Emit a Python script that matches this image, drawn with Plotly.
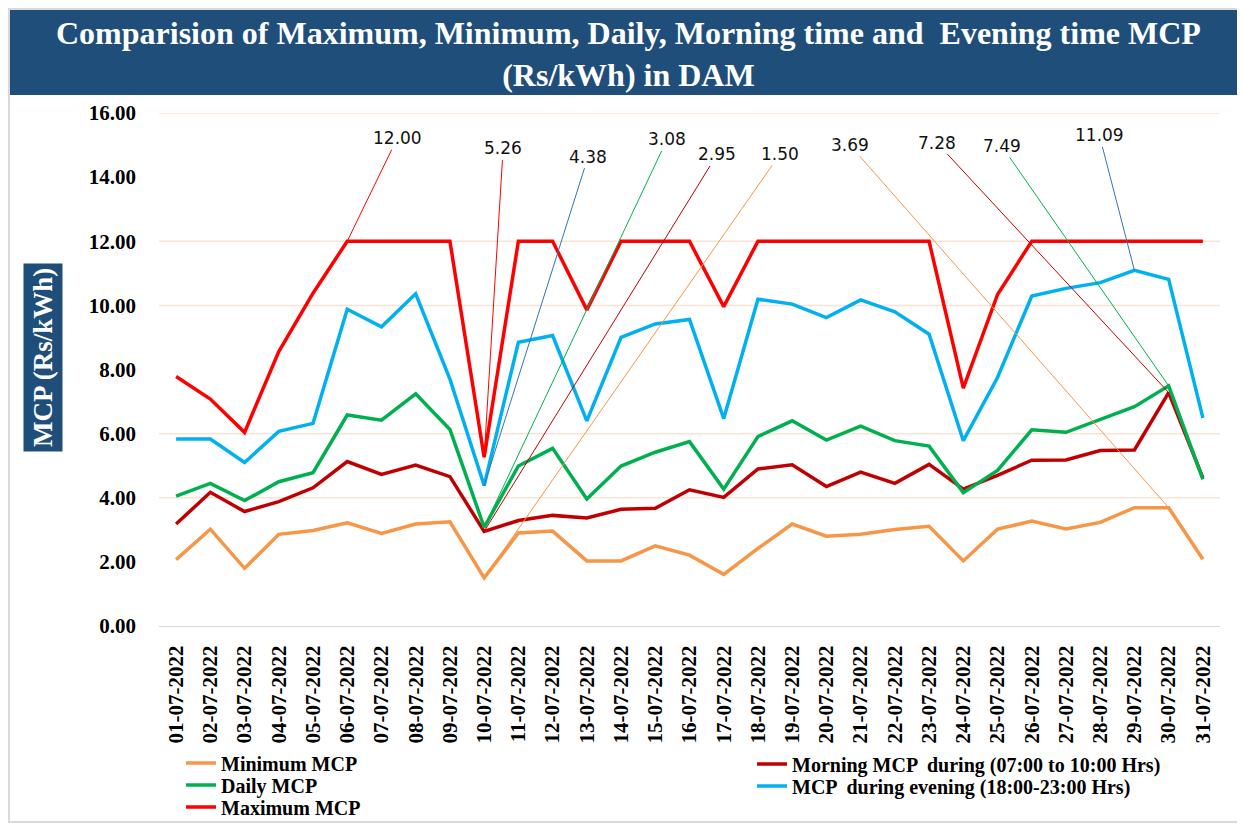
import plotly.graph_objects as go

dates = [f"{d:02d}-07-2022" for d in range(1, 32)]

minimum_mcp = [2.07, 3.02, 1.80, 2.86, 2.98, 3.22, 2.89, 3.18, 3.25, 1.50,
               2.90, 2.96, 2.03, 2.03, 2.50, 2.21, 1.61, 2.42, 3.18, 2.80,
               2.86, 3.01, 3.11, 2.03, 3.02, 3.27, 3.03, 3.23, 3.69, 3.69, 2.08]
daily_mcp = [4.05, 4.45, 3.91, 4.50, 4.78, 6.58, 6.42, 7.24, 6.13, 3.08,
             4.99, 5.54, 3.96, 4.99, 5.42, 5.75, 4.27, 5.91, 6.40, 5.80,
             6.23, 5.78, 5.61, 4.16, 4.85, 6.12, 6.04, 6.43, 6.84, 7.49, 4.57]
maximum_mcp = [7.78, 7.08, 6.04, 8.56, 10.38, 12.00, 12.00, 12.00, 12.00, 5.26,
               12.00, 12.00, 9.86, 12.00, 12.00, 12.00, 9.96, 12.00, 12.00, 12.00,
               12.00, 12.00, 12.00, 7.42, 10.34, 12.00, 12.00, 12.00, 12.00, 12.00, 12.00]
morning_mcp = [3.18, 4.17, 3.57, 3.88, 4.31, 5.13, 4.73, 5.02, 4.66, 2.95,
               3.29, 3.45, 3.37, 3.64, 3.67, 4.25, 4.01, 4.90, 5.03, 4.35,
               4.80, 4.45, 5.04, 4.27, 4.70, 5.17, 5.18, 5.47, 5.49, 7.28, 4.62]
evening_mcp = [5.83, 5.83, 5.10, 6.07, 6.32, 9.88, 9.33, 10.36, 7.70, 4.38,
               8.85, 9.06, 6.40, 9.00, 9.42, 9.56, 6.47, 10.19, 10.04, 9.62,
               10.17, 9.80, 9.10, 5.78, 7.75, 10.29, 10.53, 10.71, 11.09, 10.81, 6.49]

gridline_values = [4, 6, 10, 12, 16]
y_ticks = [0, 2, 4, 6, 8, 10, 12, 14, 16]

C_MIN = "#F79646"
C_DAILY = "#00B050"
C_MAX = "#FF0000"
C_MORN = "#C00000"
C_EVE = "#00B0F0"
C_EVE_LEAD = "#2E75B6"

SERIF = "Liberation Serif"

# page body has an 8px margin: figure is shifted by OFF on screen
OFF = 8
FIG_W, FIG_H = 1245 - OFF, 825 - OFF
# plot area in screen pixels
L, R, T, B = 159, 1220, 113, 626
W, H = R - L, B - T


def px(xs):
    return (xs - L) / W


def py(ys):
    return (B - ys) / H


fig = go.Figure()

series = [
    ("Minimum MCP", minimum_mcp, C_MIN, "legend", 194, 763),
    ("Morning MCP  during (07:00 to 10:00 Hrs)", morning_mcp, C_MORN, "legend4", 765, 764),
    ("Daily MCP", daily_mcp, C_DAILY, "legend2", 194, 785),
    ("MCP  during evening (18:00-23:00 Hrs)", evening_mcp, C_EVE, "legend5", 765, 786),
    ("Maximum MCP", maximum_mcp, C_MAX, "legend3", 194, 807),
]
legend_font = dict(family=SERIF, size=20, color="black", weight="bold")
legend_layouts = {}
for name, vals, col, lg, lx, ly in series:
    fig.add_trace(go.Scatter(
        x=dates, y=vals, mode="lines", name=name,
        line=dict(color=col, width=3.5), legend=lg,
    ))
    legend_layouts[lg] = dict(x=px(lx - 13), y=py(ly), xanchor="left", yanchor="middle",
                              orientation="v", font=legend_font, itemwidth=30,
                              bgcolor="rgba(0,0,0,0)")

# callout labels: (series values, index, leader color, pixel offsets)
callouts = [
    (maximum_mcp, 5, C_MAX, 50, -103),
    (maximum_mcp, 9, C_MAX, 19, -309),
    (evening_mcp, 9, C_EVE_LEAD, 104, -329),
    (daily_mcp, 9, C_DAILY, 183, -388),
    (morning_mcp, 9, C_MORN, 233, -377),
    (minimum_mcp, 9, C_MIN, 296, -424),
    (minimum_mcp, 29, C_MIN, -319, -363),
    (morning_mcp, 29, C_MORN, -232, -250),
    (daily_mcp, 29, C_DAILY, -167, -240),
    (evening_mcp, 28, C_EVE_LEAD, -35, -135),
]
for vals, i, col, ax, ay in callouts:
    fig.add_annotation(
        x=dates[i], y=vals[i], text=f"{vals[i]:.2f}",
        showarrow=True, arrowhead=0, arrowwidth=1, arrowcolor=col,
        ax=ax, ay=ay, standoff=0,
        font=dict(family="DejaVu Sans", size=17, color="#111111"),
    )

for g in gridline_values:
    fig.add_shape(type="line", xref="paper", yref="y", x0=0, x1=1, y0=g, y1=g,
                  line=dict(color="#FBE3D3", width=1.5), layer="below")

# title banner
fig.add_shape(type="rect", xref="paper", yref="paper",
              x0=px(5), x1=px(1240), y0=py(95), y1=py(9),
              fillcolor="#1F4E7A", line=dict(width=0), layer="below")
# outer frame
fig.add_shape(type="rect", xref="paper", yref="paper",
              x0=px(OFF + 1), x1=px(1243), y0=py(822), y1=py(OFF + 1),
              fillcolor="rgba(0,0,0,0)", line=dict(color="#D9D9D9", width=2), layer="below")

fig.add_annotation(
    xref="paper", yref="paper", x=px(628), y=py(54),
    text="Comparision of Maximum, Minimum, Daily, Morning time and  Evening time MCP<br>(Rs/kWh) in DAM",
    showarrow=False, font=dict(family=SERIF, size=32, color="white", weight="bold"),
    align="center", xanchor="center", yanchor="middle",
)
fig.add_annotation(
    xref="paper", yref="paper", x=px(43), y=py(357),
    text="MCP (Rs/kWh)", textangle=-90, showarrow=False,
    font=dict(family=SERIF, size=27, color="white", weight="bold"),
    bgcolor="#1F4E7A", borderpad=4, xanchor="center", yanchor="middle",
)

fig.update_layout(
    width=FIG_W, height=FIG_H,
    margin=dict(l=L - OFF, r=FIG_W - (R - OFF), t=T - OFF, b=FIG_H - (B - OFF), autoexpand=False),
    paper_bgcolor="white", plot_bgcolor="white",
    showlegend=True,
    xaxis=dict(type="category", tickangle=-90, showgrid=False,
               tickfont=dict(family=SERIF, size=21, color="black", weight="bold"),
               showline=True, linecolor="#D9D9D9", linewidth=1,
               ticks="", ticklabelstandoff=10, range=[-0.5, 30.5]),
    yaxis=dict(range=[0, 16], tickvals=y_ticks, tickformat=".2f", showgrid=False,
               zeroline=False, showline=False,
               tickfont=dict(family=SERIF, size=21, color="black", weight="bold"),
               ticklabelstandoff=22),
    **legend_layouts,
)

fig.write_html("out.html")
